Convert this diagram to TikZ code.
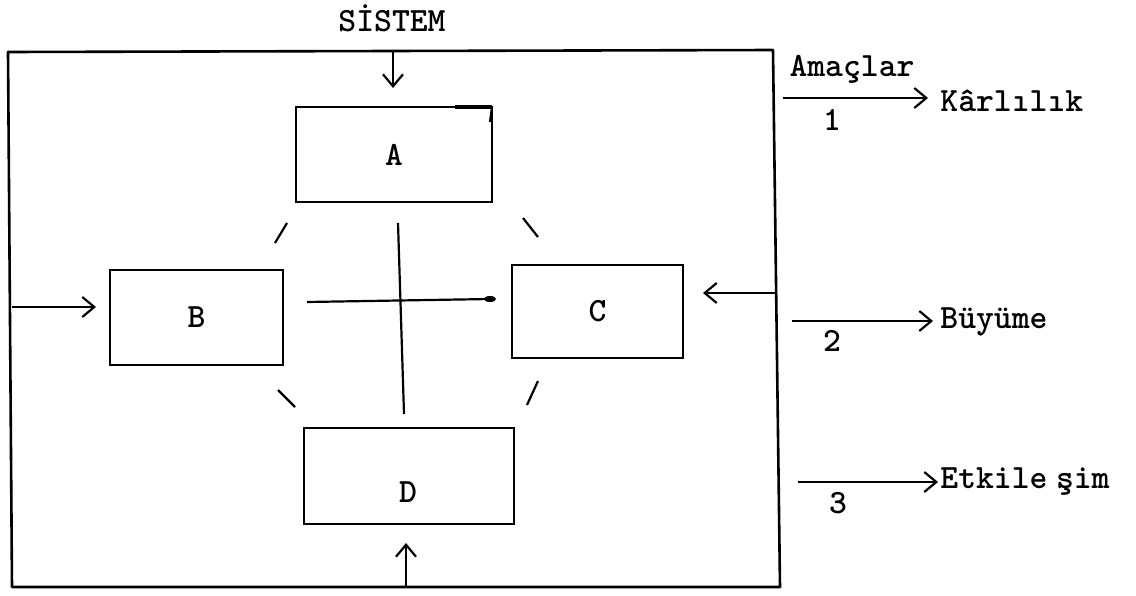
\documentclass[tikz,border=0pt]{standalone}
\usepackage{fontspec}
\usetikzlibrary{arrows.meta}
\begin{document}
\begin{tikzpicture}[x=0.5pt,y=-0.5pt,
  lbl/.style={font=\ttfamily\bfseries\fontsize{17pt}{20pt}\selectfont, inner sep=0pt},
  box/.style={draw, line width=1.1pt, inner sep=0pt, outer sep=0pt, lbl},
  frame/.style={draw, line width=1.3pt, line join=round},
  ln/.style={line width=1.1pt},
  arr/.style={line width=1.1pt, -{Straight Barb[length=6pt,width=10pt,line width=1.1pt]}}
]
\useasboundingbox (0,0) rectangle (1136,595);
% frame
\coordinate (TL) at (8,52);
\coordinate (TR) at (773,50);
\coordinate (BR) at (780,587);
\coordinate (BL) at (12,587);
\draw[frame] (TL) -- (TR) -- (BR) -- (BL) -- cycle;
% boxes
\node[box, minimum width=98pt, minimum height=47.5pt] (A) at (394,154.5) {A};
\node[box, minimum width=86.5pt, minimum height=47.5pt] (B) at (196.5,317.5) {B};
\node[box, minimum width=85.5pt, minimum height=46.5pt] (C) at (597.5,311.5) {C};
\node[box, minimum width=105pt, minimum height=48pt] (D) at (409,476) {};
\node[lbl] (Dt) at (408,492) {D};
% texts
\node[lbl] (sis) at (392,18) {SİSTEM};
\node[lbl] (ama) at (852,69) {Amaçlar};
\node[lbl, anchor=west] (kar) at (940,101) {Kârlılık};
\node[lbl] (n1) at (832,120) {1};
\node[lbl, anchor=west] (buy) at (940,322) {Büyüme};
\node[lbl] (n2) at (832,341) {2};
\node[lbl, anchor=west] (etk) at (940,482) {Etkile\hspace{0.25em}şim};
\node[lbl] (n3) at (838,503) {3};
% inputs
\coordinate (s1) at (393,52);  \coordinate (s2) at (393,88);
\draw[arr] (s1) -- (s2);
\coordinate (b1) at (12,307);  \coordinate (b2) at (96,307);
\draw[arr] (b1) -- (b2);
\coordinate (c1) at (777,293); \coordinate (c2) at (703,293);
\draw[arr] (c1) -- (c2);
\coordinate (d1) at (406,587); \coordinate (d2) at (406,543);
\draw[arr] (d1) -- (d2);
% outputs
\coordinate (o1) at (783,98);  \coordinate (o1e) at (928,98);
\draw[arr] (o1) -- (o1e);
\coordinate (o2) at (792,321); \coordinate (o2e) at (933,321);
\draw[arr] (o2) -- (o2e);
\coordinate (o3) at (798,482); \coordinate (o3e) at (938,482);
\draw[arr] (o3) -- (o3e);
% cross
\coordinate (v1) at (398,223); \coordinate (v2) at (404,414);
\draw[ln] (v1) -- (v2);
\coordinate (h1) at (307,302); \coordinate (h2) at (490,299);
\draw[ln] (h1) -- (h2);
\fill (h2) ellipse [x radius=6, y radius=3];
% diagonals
\coordinate (g1a) at (275,243); \coordinate (g1b) at (287,223);
\draw[ln] (g1a) -- (g1b);
\coordinate (g2a) at (523,218); \coordinate (g2b) at (538,237);
\draw[ln] (g2a) -- (g2b);
\coordinate (g3a) at (278,390); \coordinate (g3b) at (295,407);
\draw[ln] (g3a) -- (g3b);
\coordinate (g4a) at (538,381); \coordinate (g4b) at (527,405);
\draw[ln] (g4a) -- (g4b);
% small mark on A
\coordinate (m1) at (455,107); \coordinate (m2) at (492,107); \coordinate (m3) at (490,122);
\draw[line width=2pt] (m1) -- (m2);
\draw[ln] (m2) -- (m3);
\end{tikzpicture}
\end{document}
